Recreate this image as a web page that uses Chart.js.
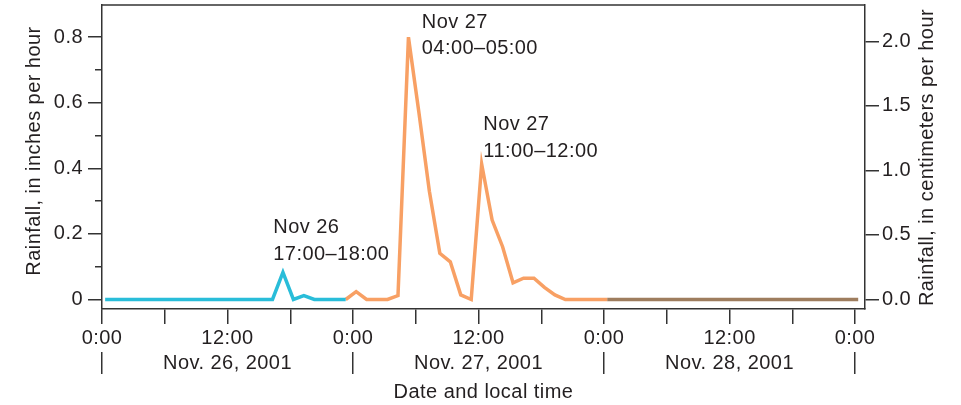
<!DOCTYPE html>
<html>
<head>
<meta charset="utf-8">
<script src="https://cdn.jsdelivr.net/npm/chart.js@4/dist/chart.umd.min.js"></script>
<style>
  html, body { margin: 0; padding: 0; background: #fff; }
  #wrap { width: 961px; height: 405px; }
</style>
</head>
<body>
<div id="wrap"><canvas id="rain" width="961" height="405"></canvas></div>
<script>
// Hourly rainfall, in inches per hour, one value per hour of each day
const rainNov26 = [0, 0, 0, 0, 0, 0, 0, 0, 0, 0, 0, 0,
                   0, 0, 0, 0, 0, 0.083, 0, 0.012, 0, 0, 0, 0];
const rainNov27 = [0.024, 0, 0, 0, 0.012, 0.80, 0.57, 0.33, 0.141, 0.115, 0.014, 0,
                   0.413, 0.242, 0.161, 0.051, 0.065, 0.065, 0.037, 0.014, 0, 0, 0, 0];
const rainNov28 = [0, 0, 0, 0, 0, 0, 0, 0, 0, 0, 0, 0,
                   0, 0, 0, 0, 0, 0, 0, 0, 0, 0, 0, 0, 0];

// Axis text
const hourTicks = [0, 6, 12, 18, 24, 30, 36, 42, 48, 54, 60, 66, 72];
const hourOfDayLabels = { 0: '0:00', 12: '12:00' };
const dayMidHours = [12, 36, 60];
const dayLabels = ['Nov. 26, 2001', 'Nov. 27, 2001', 'Nov. 28, 2001'];
const inchTicks = [0, 0.2, 0.4, 0.6, 0.8];
const inchMinorTicks = [0.1, 0.3, 0.5, 0.7];
const cmTicks = [0, 0.5, 1.0, 1.5, 2.0];
const inchTitle = 'Rainfall, in inches per hour';
const cmTitle = 'Rainfall, in centimeters per hour';

// Peak callouts: hour index into the three-day series and their text
const peakHours = [17, 29, 36];
const peakText = [
  ['Nov 26', '17:00–18:00'],
  ['Nov 27', '04:00–05:00'],
  ['Nov 27', '11:00–12:00']
];

// Scale ranges
const CM_PER_INCH = 2.54;
const inchMin = -0.029, inchMax = 0.898;
const hourMax = 72.95;
const readingOffset = 0.3;   // readings are plotted just after the hour mark

const allRain = [...rainNov26, ...rainNov27, ...rainNov28];
const toPoints = (values, firstHour) =>
  values.map((v, i) => ({ x: firstHour + i + readingOffset, y: v }));

const nov26Points = toPoints(rainNov26, 0);
const nov27Points = toPoints([rainNov26[rainNov26.length - 1], ...rainNov27, rainNov28[0]], 23);
const nov28Points = toPoints(rainNov28, 48);

const TEXT = '#231f20';
const AXIS = '#333333';
const AXIS_W = 1.5;
const FONT = "'Liberation Sans', Arial, Helvetica, sans-serif";
const FONT_SIZE = 20;

Chart.defaults.font.family = FONT;
Chart.defaults.font.size = FONT_SIZE;
Chart.defaults.color = TEXT;

// callout placement relative to each peak, in pixels
const calloutShift = [[-9.7, -12.3], [13.3, 17.2], [1.7, -7.3]];
const calloutLineGap = 26.5;

// keep axes flush with the frame: no extra room for half-labels
const noEdgePadding = s => {
  s.paddingTop = 0; s.paddingBottom = 0; s.paddingLeft = 0; s.paddingRight = 0;
};

function drawVerticalTitle(ctx, text, x, y) {
  ctx.save();
  ctx.translate(x, y);
  ctx.rotate(-Math.PI / 2);
  ctx.textAlign = 'center';
  ctx.textBaseline = 'middle';
  ctx.fillText(text, 0, 0);
  ctx.restore();
}

const decorations = {
  id: 'decorations',
  beforeDraw(chart) {
    chart.ctx.letterSpacing = '0.45px';
  },
  afterDraw(chart) {
    const { ctx, chartArea, scales } = chart;
    ctx.save();
    // top edge of the plot frame
    ctx.strokeStyle = AXIS;
    ctx.lineWidth = AXIS_W;
    ctx.beginPath();
    ctx.moveTo(chartArea.left, chartArea.top);
    ctx.lineTo(chartArea.right, chartArea.top);
    ctx.stroke();

    // axis titles, both reading bottom to top
    ctx.fillStyle = TEXT;
    ctx.font = FONT_SIZE + 'px ' + FONT;
    drawVerticalTitle(ctx, inchTitle, 34.5, 151);
    drawVerticalTitle(ctx, cmTitle, 927.8, 157.5);

    // peak callouts
    ctx.textAlign = 'left';
    ctx.textBaseline = 'alphabetic';
    peakHours.forEach((h, i) => {
      const px = scales.x.getPixelForValue(h + readingOffset);
      const py = scales.y.getPixelForValue(allRain[h]);
      const x = px + calloutShift[i][0];
      const yLast = py + calloutShift[i][1];
      const lines = peakText[i];
      lines.forEach((t, j) => {
        ctx.fillText(t, x, yLast - (lines.length - 1 - j) * calloutLineGap);
      });
    });
    ctx.restore();
  }
};

const lineStyle = { borderWidth: 3.5, pointRadius: 0, tension: 0, fill: false,
                    borderJoinStyle: 'miter', borderCapStyle: 'butt' };

new Chart(document.getElementById('rain'), {
  type: 'line',
  data: {
    datasets: [
      { label: 'Nov 26', data: nov26Points, borderColor: '#29bdd9', ...lineStyle },
      { label: 'Nov 27', data: nov27Points, borderColor: '#f8a064', ...lineStyle },
      { label: 'Nov 28', data: nov28Points, borderColor: '#9e7d5e', ...lineStyle }
    ]
  },
  options: {
    responsive: false,
    animation: false,
    devicePixelRatio: 1,
    layout: { padding: { top: 5, left: 0, right: 0, bottom: 0 } },
    plugins: { legend: { display: false }, tooltip: { enabled: false } },
    scales: {
      x: {
        type: 'linear', position: 'bottom', weight: 0,
        min: 0, max: hourMax,
        afterFit: s => { s.height = 43; noEdgePadding(s); },
        afterBuildTicks: s => { s.ticks = hourTicks.map(v => ({ value: v })); },
        ticks: {
          autoSkip: false, maxRotation: 0, padding: 2, includeBounds: false,
          callback: v => hourOfDayLabels[v % 24] || ''
        },
        grid: { drawOnChartArea: false, tickLength: 15, color: AXIS, lineWidth: AXIS_W },
        border: { display: true, color: AXIS, width: AXIS_W }
      },
      xDays: {
        type: 'linear', position: 'bottom', weight: 1,
        min: 0, max: hourMax,
        afterFit: s => { s.height = 53; noEdgePadding(s); },
        afterBuildTicks: s => { s.ticks = dayMidHours.map(v => ({ value: v })); },
        ticks: {
          autoSkip: false, maxRotation: 0, padding: -23, includeBounds: false,
          callback: (v, i) => dayLabels[i]
        },
        grid: { offset: true, drawOnChartArea: false, tickLength: 22, color: AXIS, lineWidth: AXIS_W },
        border: { display: false },
        title: { display: true, text: 'Date and local time', padding: { top: 0, bottom: 0.5 } }
      },
      y: {
        position: 'left', weight: 1,
        min: inchMin, max: inchMax,
        afterFit: s => { s.width = 102; noEdgePadding(s); },
        afterBuildTicks: s => { s.ticks = inchTicks.map(v => ({ value: v })); },
        ticks: { padding: 5, includeBounds: false, callback: v => (v === 0 ? '0' : v.toFixed(1)) },
        grid: { drawOnChartArea: false, tickLength: 14, color: AXIS, lineWidth: AXIS_W },
        border: { display: true, color: AXIS, width: AXIS_W }
      },
      yMinor: {
        position: 'left', weight: 0,
        min: inchMin, max: inchMax,
        afterFit: s => { s.width = 0; noEdgePadding(s); },
        afterBuildTicks: s => { s.ticks = inchMinorTicks.map(v => ({ value: v })); },
        ticks: { callback: () => '' },
        grid: { drawOnChartArea: false, tickLength: 7, color: AXIS, lineWidth: AXIS_W },
        border: { display: false }
      },
      yCm: {
        position: 'right',
        min: inchMin * CM_PER_INCH, max: inchMax * CM_PER_INCH,
        afterFit: s => { s.width = 96; noEdgePadding(s); },
        afterBuildTicks: s => { s.ticks = cmTicks.map(v => ({ value: v })); },
        ticks: { padding: 3, includeBounds: false, callback: v => v.toFixed(1) },
        grid: { drawOnChartArea: false, tickLength: 14, color: AXIS, lineWidth: AXIS_W },
        border: { display: true, color: AXIS, width: AXIS_W }
      }
    }
  },
  plugins: [decorations]
});
</script>
</body>
</html>
